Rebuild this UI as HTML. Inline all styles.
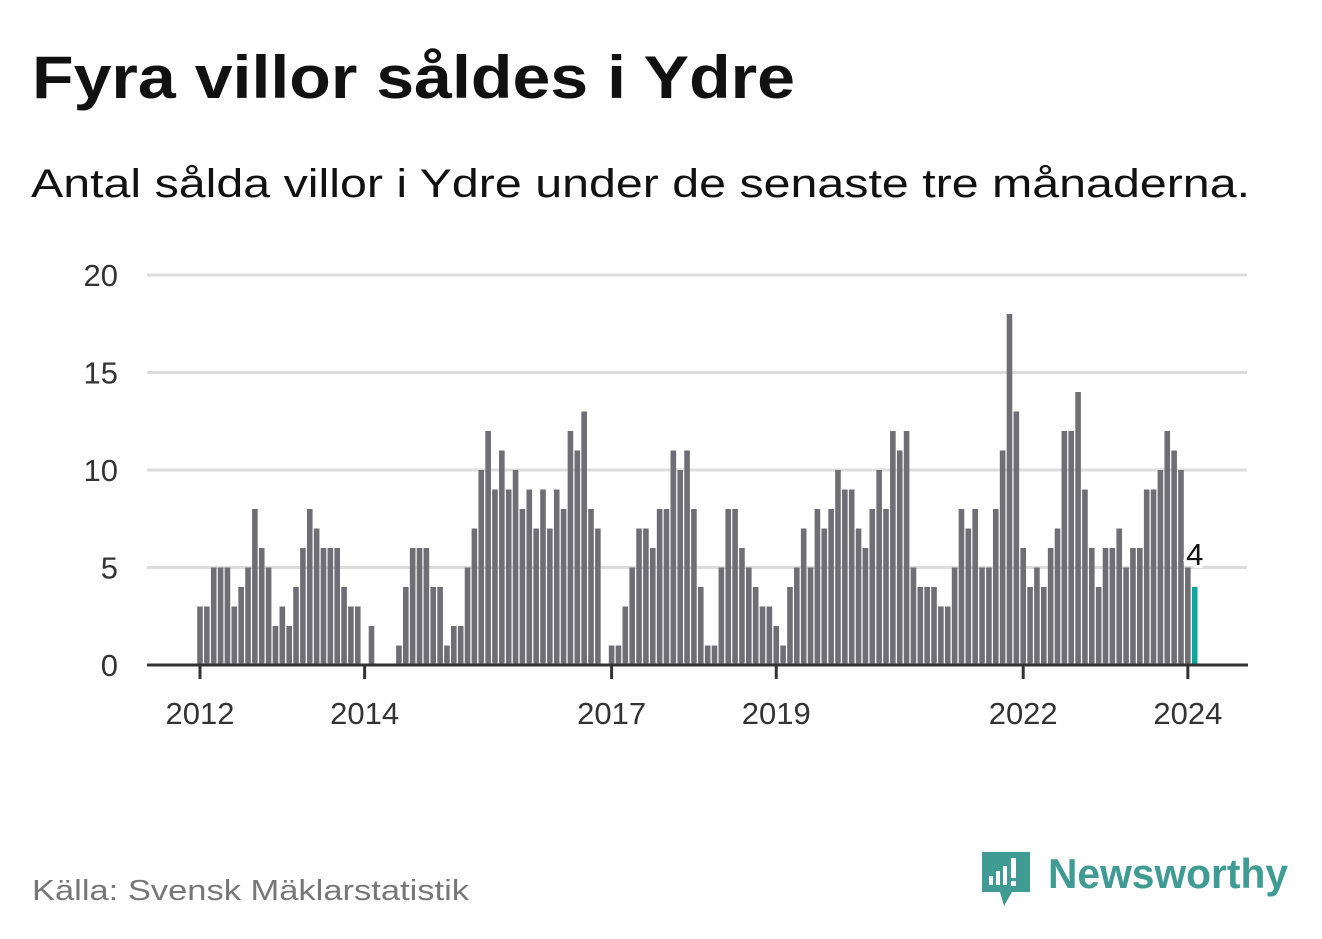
<!DOCTYPE html>
<html><head><meta charset="utf-8"><style>
body{margin:0;background:#fff;}
svg{display:block;font-family:"Liberation Sans","DejaVu Sans",sans-serif;}
</style></head><body>
<svg id="chart" width="1322" height="939" viewBox="0 0 1322 939" xmlns="http://www.w3.org/2000/svg">
<rect width="1322" height="939" fill="#fff"/>
<text x="32" y="98" font-size="60" font-weight="bold" fill="#111" textLength="763" lengthAdjust="spacingAndGlyphs">Fyra villor såldes i Ydre</text>
<text x="31" y="197" font-size="40" fill="#111" textLength="1219" lengthAdjust="spacingAndGlyphs">Antal sålda villor i Ydre under de senaste tre månaderna.</text>
<g id="grid"></g>
<g id="bars"></g>
<g id="xaxis"></g>
<text x="32" y="900" font-size="29" fill="#777" textLength="437" lengthAdjust="spacingAndGlyphs">Källa: Svensk Mäklarstatistik</text>
<g>
<path d="M982 852 h48 v40 h-18 l-8 14 l-4 -14 h-18 z" fill="#3f9b93"/>
<rect x="989" y="876" width="4" height="9" fill="#fff"/>
<rect x="996" y="871" width="4" height="14" fill="#fff"/>
<rect x="1003" y="866" width="4" height="19" fill="#fff"/>
<rect x="1011" y="858" width="5" height="20" fill="#fff"/>
<rect x="1011" y="881" width="5" height="5" fill="#fff"/>
<text x="1048" y="888" font-size="42" font-weight="bold" fill="#3f9b93" textLength="240" lengthAdjust="spacingAndGlyphs">Newsworthy</text>
</g>
</svg>
<script>
const values = [3,3,5,5,5,3,4,5,8,6,5,2, 3,2,4,6,8,7,6,6,6,4,3,3,
0,2,0,0,0,1,4,6,6,6,4,4, 1,2,2,5,7,10,12,9,11,9,10,8,
9,7,9,7,9,8,12,11,13,8,7,0, 1,1,3,5,7,7,6,8,8,11,10,11,
8,4,1,1,5,8,8,6,5,4,3,3, 2,1,4,5,7,5,8,7,8,10,9,9,
7,6,8,10,8,12,11,12,5,4,4,4, 3,3,5,8,7,8,5,5,8,11,18,13,
6,4,5,4,6,7,12,12,14,9,6,4, 6,6,7,5,6,6,9,9,10,12,11,10,
5,4];
const yTicks = [0,5,10,15,20];
const xTickYears = ["2012","2014","2017","2019","2022","2024"];
const xTickIndex = [0,24,60,84,120,144];

const NS="http://www.w3.org/2000/svg";
const x0=200, pitch=6.86, bw=5.6, yBase=665, yUnit=19.5;
const xS=i=>x0+pitch*i;
const yS=v=>yBase-v*yUnit;
function mk(tag,attrs,parent){const e=document.createElementNS(NS,tag);for(const k in attrs)e.setAttribute(k,attrs[k]);parent.appendChild(e);return e;}
const grid=document.getElementById('grid'), bars=document.getElementById('bars'), xa=document.getElementById('xaxis');
yTicks.forEach(t=>{
  if(t>0){const l=mk('line',{x1:147,x2:1247,y1:yS(t),y2:yS(t),stroke:'#ddd','stroke-width':3},grid);
  
  }
  const tx=mk('text',{x:118,y:yS(t)+11,'text-anchor':'end','font-size':31,fill:'#333'},grid);
  tx.textContent=t;
  
  
});
values.forEach((v,i)=>{
  const last=i===values.length-1;
  const r=mk('rect',{x:xS(i)-bw/2,y:yS(v),width:bw,height:v*yUnit,fill:last?'#0ea59a':'#6f6e74'},bars);
  
  
});
const li=values.length-1;
const lab=mk('text',{x:xS(li),y:yS(values[li])-22,'text-anchor':'middle','font-size':31,fill:'#111',stroke:'#fff','stroke-width':6,'paint-order':'stroke'},bars);
lab.textContent=values[li];


const ax=mk('line',{x1:147,x2:1248,y1:yBase,y2:yBase,stroke:'#333','stroke-width':3},xa);


xTickIndex.forEach((idx,k)=>{
  const tk=mk('line',{x1:xS(idx),x2:xS(idx),y1:yBase,y2:yBase+14,stroke:'#333','stroke-width':3},xa);
  
  
  const t=mk('text',{x:xS(idx),y:724,'text-anchor':'middle','font-size':31,fill:'#333'},xa);
  t.textContent=xTickYears[k];
  
  
});
</script>
</body></html>
